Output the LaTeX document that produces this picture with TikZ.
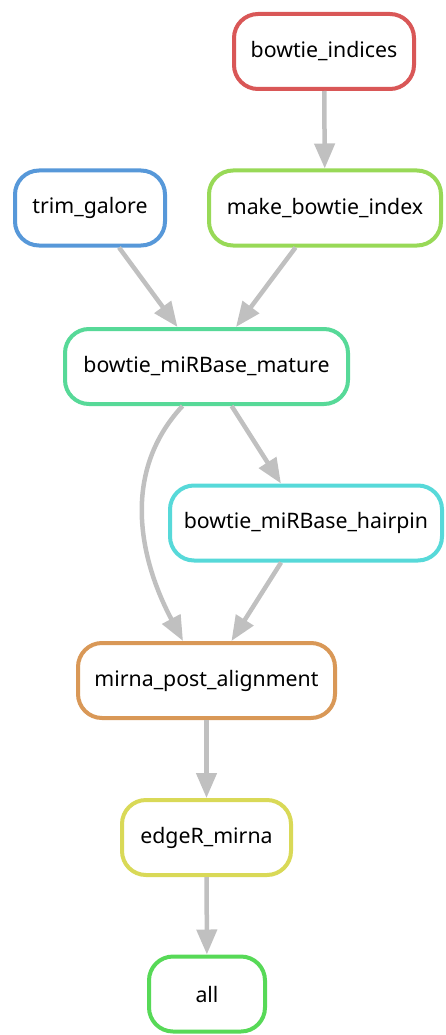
\documentclass[tikz,border=0pt]{standalone}
\usepackage{fontspec}
\setmainfont{Noto Sans}
\usetikzlibrary{arrows.meta}

% rule colours: hsv(h, 0.6, 0.85)
\definecolor{cRed}{RGB}{217,87,87}
\definecolor{cOrange}{RGB}{217,152,87}
\definecolor{cYellow}{RGB}{217,217,87}
\definecolor{cLime}{RGB}{152,217,87}
\definecolor{cGreen}{RGB}{87,217,87}
\definecolor{cMint}{RGB}{87,217,152}
\definecolor{cCyan}{RGB}{87,217,217}
\definecolor{cBlue}{RGB}{87,152,217}
\definecolor{edgegrey}{RGB}{192,192,192}

\tikzset{
  rule/.style={draw=#1, line width=4pt, rounded corners=24pt, fill=white,
    minimum height=75pt, inner sep=0pt, text=black,
    font=\fontsize{21.3pt}{25pt}\selectfont},
  dep/.style={draw=edgegrey, line width=4.5pt,
    -{Triangle[length=25pt,width=20pt]}}
}

\begin{document}
\begin{tikzpicture}[x=1pt, y=-1pt]
  \useasboundingbox (0,0) rectangle (445,1035);

  \node[rule=cRed,    minimum width=180pt] (bi)  at (324,51.5)   {bowtie\_indices};
  \node[rule=cLime,   minimum width=232pt] (mbi) at (325,208)    {make\_bowtie\_index};
  \node[rule=cBlue,   minimum width=150pt] (tg)  at (90,208)     {trim\_galore};
  \node[rule=cMint,   minimum width=283pt] (mat) at (206.5,366.5){bowtie\_miRBase\_mature};
  \node[rule=cCyan,   minimum width=272pt] (hp)  at (306,523)    {bowtie\_miRBase\_hairpin};
  \node[rule=cOrange, minimum width=257pt] (mpa) at (206.5,680.5){mirna\_post\_alignment};
  \node[rule=cYellow, minimum width=169pt] (edr) at (206.5,837.5){edgeR\_mirna};
  \node[rule=cGreen,  minimum width=116pt] (all) at (207,994)    {all};

  \draw[dep] (bi) -- (mbi);
  \draw[dep] (tg) -- (mat);
  \draw[dep] (mbi) -- (mat);
  \draw[dep] (mat) -- (hp);
  \draw[dep] ([xshift=-24pt]mat.south) .. controls +(-65,70) and +(-40,-75) .. ([xshift=-23.5pt]mpa.north);
  \draw[dep] (hp) -- (mpa);
  \draw[dep] (mpa) -- (edr);
  \draw[dep] (edr) -- (all);
\end{tikzpicture}
\end{document}
